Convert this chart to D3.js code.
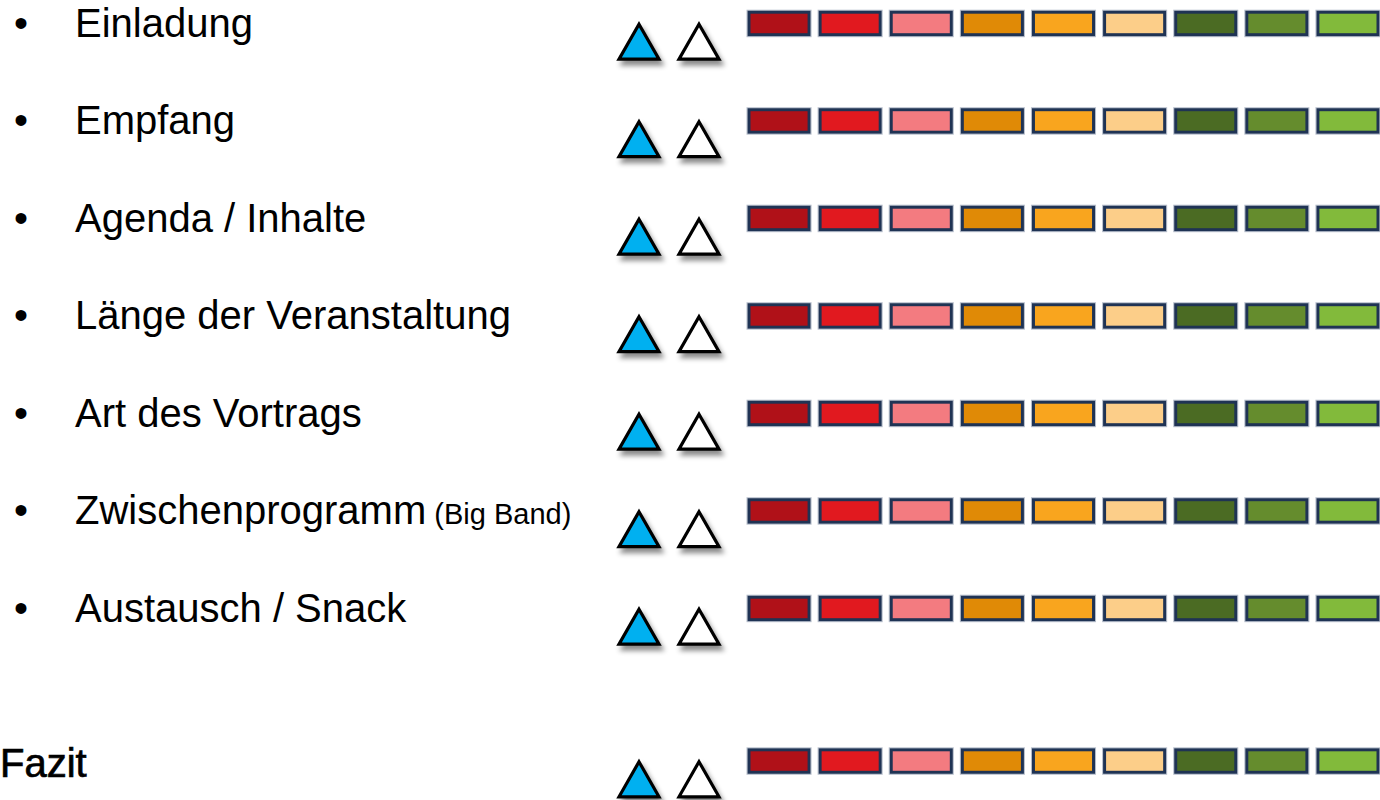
<!DOCTYPE html>
<html>
<head>
<meta charset="utf-8">
<script src="https://cdn.jsdelivr.net/npm/d3@7"></script>
<style>
  html, body { margin: 0; padding: 0; background: #fff; }
  svg { display: block; }
</style>
</head>
<body>
<div id="vis"></div>
<script>
// Kriterien der Bewertung
var items = ["Einladung", "Empfang", "Agenda / Inhalte", "Länge der Veranstaltung",
             "Art des Vortrags", "Zwischenprogramm", "Austausch / Snack"];
var itemNotes = ["", "", "", "", "", "(Big Band)", ""];
var summaryLabel = "Fazit";

// Bewertungsskala (9 Stufen, rot -> orange -> grün)
var scaleSteps = [1, 2, 3, 4, 5, 6, 7, 8, 9];
var scaleColors = ["#b01118", "#e1191f", "#f37b80", "#e08a06", "#f9a51e",
                   "#fcce89", "#4b6b23", "#658c2d", "#82ba3b"];

// Auswahl-Dreiecke
var markers = ["gewählt", "offen"];
var markerColors = ["#00b0f0", "#ffffff"];

var width = 1380, height = 800;

var svg = d3.select("#vis").append("svg")
    .attr("width", width)
    .attr("height", height);

var defs = svg.append("defs");
var shadow = defs.append("filter").attr("id", "shadow")
    .attr("x", "-30%").attr("y", "-30%").attr("width", "170%").attr("height", "170%");
shadow.append("feDropShadow")
    .attr("dx", 3).attr("dy", 5).attr("stdDeviation", 2.4)
    .attr("flood-color", "#000").attr("flood-opacity", 0.45);

// alle Zeilen inkl. Fazit
var rows = items.map(function(d, i) { return { label: d, note: itemNotes[i], summary: false, idx: i }; });
rows.push({ label: summaryLabel, note: "", summary: true, idx: items.length });

// vertikale Position (Oberkante der Skala)
var y = d3.scaleLinear().domain([0, 6]).range([10.7, 595.7]);
function rowTop(d) { return d.summary ? 748.3 : y(d.idx); }

// Skala horizontal
var x = d3.scaleBand()
    .domain(scaleSteps)
    .range([747.5, 1379.5])
    .paddingInner(0.113)
    .paddingOuter(0);

var xm = d3.scalePoint()
    .domain(markers)
    .range([639, 699]);

var row = svg.selectAll("g.row")
    .data(rows)
    .enter().append("g")
    .attr("class", "row")
    .attr("transform", function(d) { return "translate(0," + rowTop(d) + ")"; });

// Texte
row.filter(function(d) { return !d.summary; }).append("text")
    .attr("x", 14)
    .attr("y", 26)
    .attr("font-family", "Liberation Sans, Arial, sans-serif")
    .attr("font-size", 40)
    .attr("fill", "#000")
    .text("•");

var label = row.append("text")
    .attr("x", function(d) { return d.summary ? 0 : 75; })
    .attr("y", function(d) { return d.summary ? 28.5 : 26; })
    .attr("font-family", "Liberation Sans, Arial, sans-serif")
    .attr("font-size", 40)
    .attr("fill", "#000")
    .attr("stroke", function(d) { return d.summary ? "#000" : "none"; })
    .attr("stroke-width", 0.7);

label.append("tspan").text(function(d) { return d.label; });
label.append("tspan")
    .attr("font-size", 29)
    .attr("stroke", "none")
    .text(function(d) { return d.note ? " " + d.note : ""; });

// Dreiecke
var tw = 20, th = 35;
row.selectAll("path.tri")
    .data(markers)
    .enter().append("path")
    .attr("class", "tri")
    .attr("d", function(m) {
        var cx = xm(m);
        return "M" + cx + ",13.5 L" + (cx + tw) + "," + (13.5 + th) + " L" + (cx - tw) + "," + (13.5 + th) + "Z";
    })
    .attr("fill", function(m, i) { return markerColors[i]; })
    .attr("stroke", "#000")
    .attr("stroke-width", 3.2)
    .attr("stroke-linejoin", "miter")
    .attr("filter", "url(#shadow)");

// Farbskala
row.selectAll("rect.halo")
    .data(scaleSteps)
    .enter().append("rect")
    .attr("class", "halo")
    .attr("x", function(s) { return x(s) - 0.5; })
    .attr("y", -0.5)
    .attr("width", x.bandwidth() + 1)
    .attr("height", 26.5)
    .attr("fill", "none")
    .attr("stroke", "#b7bfcc")
    .attr("stroke-width", 1);

row.selectAll("rect.step")
    .data(scaleSteps)
    .enter().append("rect")
    .attr("class", "step")
    .attr("x", function(s) { return x(s) + 1.5; })
    .attr("y", 1.5)
    .attr("width", x.bandwidth() - 3)
    .attr("height", 22.5)
    .attr("fill", function(s, i) { return scaleColors[i]; })
    .attr("stroke", "#1f3354")
    .attr("stroke-width", 3);
</script>
</body>
</html>
